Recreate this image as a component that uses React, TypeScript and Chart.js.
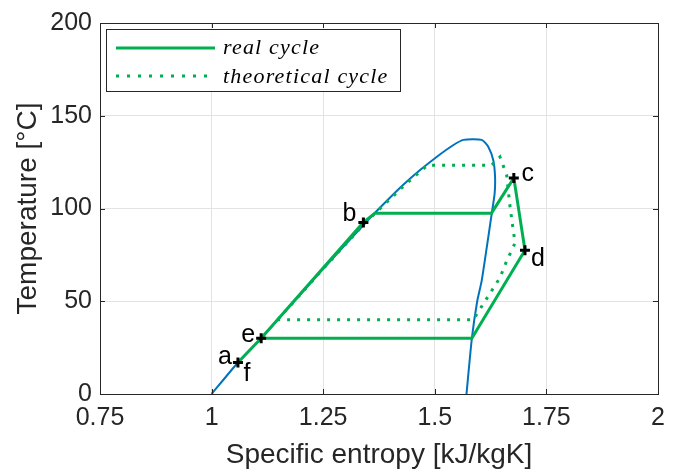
import React, { useEffect, useRef } from 'react';
import { Chart, registerables } from 'chart.js';
Chart.register(...registerables);

// Saturation dome (specific entropy [kJ/kgK], temperature [°C])
const domeS = [1.0, 1.059, 1.111, 1.148, 1.25, 1.3475, 1.392, 1.43, 1.467, 1.504, 1.541, 1.564, 1.605, 1.62, 1.631, 1.635, 1.634, 1.628, 1.617, 1.605, 1.595, 1.583, 1.571];
const domeT = [0, 17, 30, 40, 67.5, 93, 104, 112.9, 120.7, 127.8, 134.1, 137, 137, 133.2, 126, 117, 108, 98, 80, 61, 50, 30, 0];

// Real cycle
const realS = [1.059, 1.111, 1.34, 1.366, 1.627, 1.677, 1.702, 1.583, 1.111];
const realT = [17, 30, 92.5, 97.5, 97.5, 116.5, 77.5, 30, 30];

// Theoretical cycle
const theoS = [1.148, 1.25, 1.347, 1.395, 1.434, 1.47, 1.484, 1.627, 1.646, 1.661, 1.668, 1.676, 1.68, 1.661, 1.646, 1.586, 1.148];
const theoT = [40, 67.5, 93, 104, 112.9, 120.5, 123.3, 123.3, 127.8, 118, 102, 87.7, 81.5, 71.7, 62.7, 40, 40];

// State points
const markS = [1.059, 1.111, 1.34, 1.677, 1.702];
const markT = [17, 30, 92.5, 116.5, 77.5];
const labelNames = ['a', 'f', 'e', 'b', 'c', 'd'];
const labelS = [1.059, 1.059, 1.111, 1.34, 1.677, 1.702];
const labelT = [17, 17, 30, 92.5, 116.5, 77.5];

const xTicks = [0.75, 1, 1.25, 1.5, 1.75, 2];
const yTicks = [0, 50, 100, 150, 200];
const legendNames = ['real cycle', 'theoretical cycle'];
const xTitle = 'Specific entropy [kJ/kgK]';
const yTitle = 'Temperature [°C]';

const GREEN = '#00B050';
const BLUE = '#0072BD';
const AXIS = '#262626';
const SANS = "'Liberation Sans', Arial, Helvetica, sans-serif";

const toPts = (s: number[], t: number[]) => s.map((v, i) => ({ x: v, y: t[i] }));

const labelOffsets: Record<string, [number, number]> = {
  a: [-13, -5], f: [9, 12], e: [-13, -3], b: [-14, -8], c: [14, -4], d: [13, 9],
};

const decorPlugin = {
  id: 'decor',
  afterDatasetsDraw(chart: any) {
    const { ctx, chartArea: ca, scales } = chart;
    const xs = scales.x, ys = scales.y;
    ctx.save();
    // labels
    ctx.fillStyle = '#000';
    ctx.font = `25px ${SANS}`;
    ctx.textAlign = 'center';
    ctx.textBaseline = 'middle';
    labelNames.forEach((n, i) => {
      const px = xs.getPixelForValue(labelS[i]);
      const py = ys.getPixelForValue(labelT[i]);
      const o = labelOffsets[n] || [0, 0];
      ctx.fillText(n, px + o[0], py + o[1]);
    });
    // axes box
    ctx.strokeStyle = AXIS;
    ctx.lineWidth = 1;
    ctx.strokeRect(Math.round(ca.left) + 0.5, Math.round(ca.top) + 0.5, Math.round(ca.right - ca.left), Math.round(ca.bottom - ca.top));
    const tl = 5;
    ctx.beginPath();
    xTicks.forEach((v) => {
      const px = Math.round(xs.getPixelForValue(v)) + 0.5;
      ctx.moveTo(px, ca.bottom); ctx.lineTo(px, ca.bottom - tl);
      ctx.moveTo(px, ca.top); ctx.lineTo(px, ca.top + tl);
    });
    yTicks.forEach((v) => {
      const py = Math.round(ys.getPixelForValue(v)) + 0.5;
      ctx.moveTo(ca.left, py); ctx.lineTo(ca.left + tl, py);
      ctx.moveTo(ca.right, py); ctx.lineTo(ca.right - tl, py);
    });
    ctx.stroke();
    // legend
    const lx = ca.left + 6, ly = ca.top + 6, lw = 294, lh = 62;
    ctx.fillStyle = '#fff';
    ctx.fillRect(lx, ly, lw, lh);
    ctx.strokeRect(Math.round(lx) + 0.5, Math.round(ly) + 0.5, lw, lh);
    const rows = [ly + 19, ly + 47];
    ctx.strokeStyle = GREEN;
    ctx.lineWidth = 3;
    ctx.beginPath();
    ctx.moveTo(lx + 10, rows[0]); ctx.lineTo(lx + 109, rows[0]);
    ctx.stroke();
    ctx.setLineDash([3, 8]);
    ctx.beginPath();
    ctx.moveTo(lx + 10, rows[1]); ctx.lineTo(lx + 109, rows[1]);
    ctx.stroke();
    ctx.setLineDash([]);
    ctx.fillStyle = '#000';
    ctx.font = "italic 22px 'Liberation Serif', 'Times New Roman', serif";
    (ctx as any).letterSpacing = '1.2px';
    ctx.textAlign = 'left';
    ctx.textBaseline = 'alphabetic';
    ctx.fillText(legendNames[0], lx + 117, rows[0] + 6);
    ctx.fillText(legendNames[1], lx + 117, rows[1] + 7);
    (ctx as any).letterSpacing = '0px';
    ctx.restore();
  },
};

export default function App() {
  const ref = useRef<HTMLCanvasElement | null>(null);
  useEffect(() => {
    if (!ref.current) return;
    const chart = new Chart(ref.current, {
      type: 'scatter',
      data: {
        datasets: [
          { label: 'markers', data: toPts(markS, markT), showLine: false, pointStyle: 'cross', pointRadius: 5, pointBorderWidth: 3, borderColor: '#000', backgroundColor: '#000', order: 1 } as any,
          { label: legendNames[0], data: toPts(realS, realT), showLine: true, borderColor: GREEN, borderWidth: 3, pointRadius: 0, tension: 0, order: 2 } as any,
          { label: legendNames[1], data: toPts(theoS, theoT), showLine: true, borderColor: GREEN, borderWidth: 3, borderDash: [3, 7], pointRadius: 0, tension: 0, order: 3 } as any,
          { label: 'dome', data: toPts(domeS, domeT), showLine: true, borderColor: BLUE, borderWidth: 2, pointRadius: 0, tension: 0.2, order: 4 } as any,
        ],
      },
      options: {
        animation: false,
        responsive: true,
        maintainAspectRatio: false,
        layout: { padding: { top: 20, right: 25, left: 0, bottom: 0 } },
        plugins: { legend: { display: false }, tooltip: { enabled: false } },
        scales: {
          x: {
            type: 'linear', min: 0.75, max: 2,
            afterBuildTicks: (s: any) => { s.ticks = xTicks.map((v) => ({ value: v })); },
            afterFit: (s: any) => { s.height = 78; },
            ticks: { color: AXIS, font: { family: SANS, size: 25 }, padding: 9, callback: (v: any) => String(v) },
            grid: { color: '#e3e3e3', drawTicks: false },
            border: { display: false },
            title: { display: true, text: xTitle, color: AXIS, font: { family: SANS, size: 28 }, padding: { top: 0, bottom: 0 } },
          },
          y: {
            type: 'linear', min: 0, max: 200,
            afterBuildTicks: (s: any) => { s.ticks = yTicks.map((v) => ({ value: v })); },
            afterFit: (s: any) => { s.width = 100; },
            ticks: { color: AXIS, font: { family: SANS, size: 25 }, padding: 8, callback: (v: any) => String(v) },
            grid: { color: '#e3e3e3', drawTicks: false },
            border: { display: false },
            title: { display: true, text: yTitle, color: AXIS, font: { family: SANS, size: 28 }, padding: { top: 11, bottom: 0 } },
          },
        },
      } as any,
      plugins: [decorPlugin],
    });
    return () => chart.destroy();
  }, []);
  return (
    <div style={{ position: 'absolute', left: 0, top: 0, width: 683, height: 472, background: '#fff' }}>
      <canvas ref={ref} />
    </div>
  );
}
